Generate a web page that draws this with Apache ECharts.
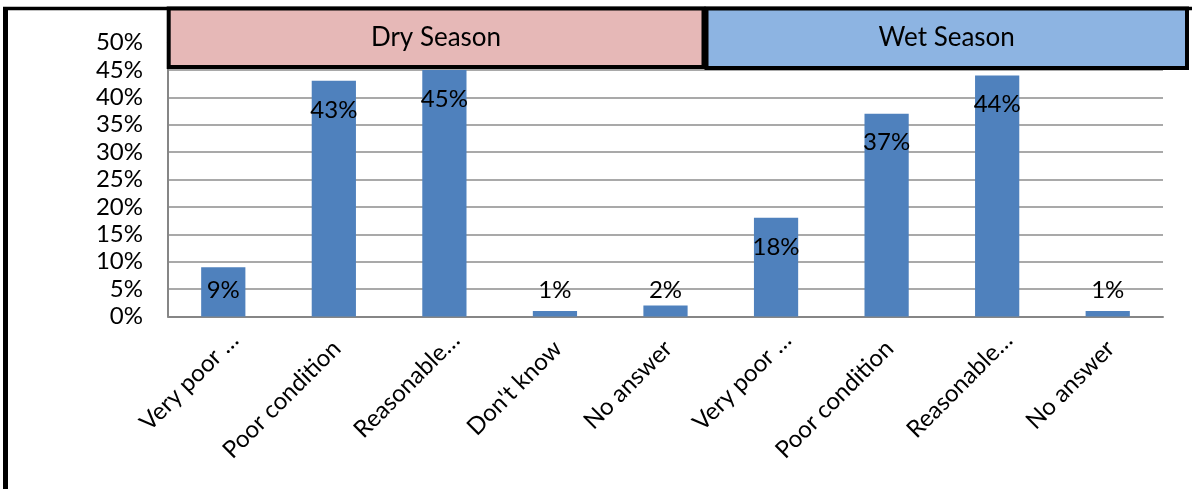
<!DOCTYPE html>
<html>
<head>
<meta charset="utf-8">
<script src="https://cdn.jsdelivr.net/npm/echarts@6/dist/echarts.min.js"></script>
<style>
  html, body { margin: 0; padding: 0; background: #ffffff; }
  #chart { width: 1192px; height: 489px; }
</style>
</head>
<body>
<div id="chart"></div>
<script>
// Road condition ratings by season (share of respondents, %)
const categories = ['Very poor …', 'Poor condition', 'Reasonable…', "Don't know", 'No answer',
                    'Very poor …', 'Poor condition', 'Reasonable…', 'No answer'];
const dryShares = [9, 43, 45, 1, 2];
const wetShares = [18, 37, 44, 1];
const seasons = ['Dry Season', 'Wet Season'];
const yTicks = [0, 5, 10, 15, 20, 25, 30, 35, 40, 45, 50];

const FONT = 'Lato, "Open Sans", sans-serif';
const shares = dryShares.concat(wetShares);

// tall bars carry their label just inside the top, short bars keep it near the base
const barData = shares.map(v => ({
  value: v,
  label: v >= 10
    ? { position: 'insideTop', distance: 17 }
    : { position: 'insideBottom', distance: 14 }
}));

// truncated category names sit a little further along their slant
const axisCategories = categories.map(name => ({
  value: name,
  textStyle: { padding: [0, name.endsWith('…') ? -16 : -4, 0, 0] }
}));

const chart = echarts.init(document.getElementById('chart'), null, { renderer: 'canvas' });

chart.setOption({
  animation: false,
  backgroundColor: '#ffffff',
  grid: { left: 168, right: 29, top: 42.5, bottom: 172.5, containLabel: false },
  xAxis: {
    type: 'category',
    data: axisCategories,
    axisLine: { show: true, lineStyle: { color: '#868686', width: 2 } },
    axisTick: { show: false },
    axisLabel: {
      interval: 0,
      rotate: 45,
      margin: 31,
      fontFamily: FONT,
      fontSize: 24,
      color: '#000000'
    }
  },
  yAxis: {
    type: 'value',
    min: yTicks[0],
    max: yTicks[yTicks.length - 1],
    interval: yTicks[1] - yTicks[0],
    axisLine: { show: true, lineStyle: { color: '#868686', width: 2 } },
    axisTick: { show: false },
    axisLabel: {
      margin: 25,
      fontFamily: FONT,
      fontSize: 24,
      color: '#000000',
      formatter: '{value}%'
    },
    splitLine: { show: true, lineStyle: { color: '#8c8c8c', width: 1.5 } }
  },
  series: [{
    type: 'bar',
    data: barData,
    barWidth: '40%',
    itemStyle: { color: '#4F81BD' },
    label: {
      show: true,
      fontFamily: FONT,
      fontSize: 24,
      color: '#000000',
      formatter: p => p.value + '%'
    }
  }],
  graphic: [
    // outer frame (left and top edges)
    { type: 'line', z: 10, shape: { x1: 5.5, y1: 7, x2: 5.5, y2: 489 },
      style: { stroke: '#000000', lineWidth: 5 } },
    { type: 'line', z: 10, shape: { x1: 3, y1: 8.5, x2: 1192, y2: 8.5 },
      style: { stroke: '#000000', lineWidth: 3.5 } },
    // season header boxes
    { type: 'rect', z: 11, shape: { x: 168.7, y: 8.5, width: 534.8, height: 58.5 },
      style: { fill: '#E6B8B7', stroke: '#000000', lineWidth: 4 } },
    { type: 'rect', z: 11, shape: { x: 706.5, y: 8.5, width: 480.5, height: 59.5 },
      style: { fill: '#8DB4E2', stroke: '#000000', lineWidth: 4 } },
    { type: 'text', z: 12, x: 436, y: 38,
      style: { text: seasons[0], fill: '#000000', font: '26px ' + FONT, textAlign: 'center', textVerticalAlign: 'middle' } },
    { type: 'text', z: 12, x: 946.7, y: 38,
      style: { text: seasons[1], fill: '#000000', font: '26px ' + FONT, textAlign: 'center', textVerticalAlign: 'middle' } }
  ]
});
</script>
</body>
</html>
